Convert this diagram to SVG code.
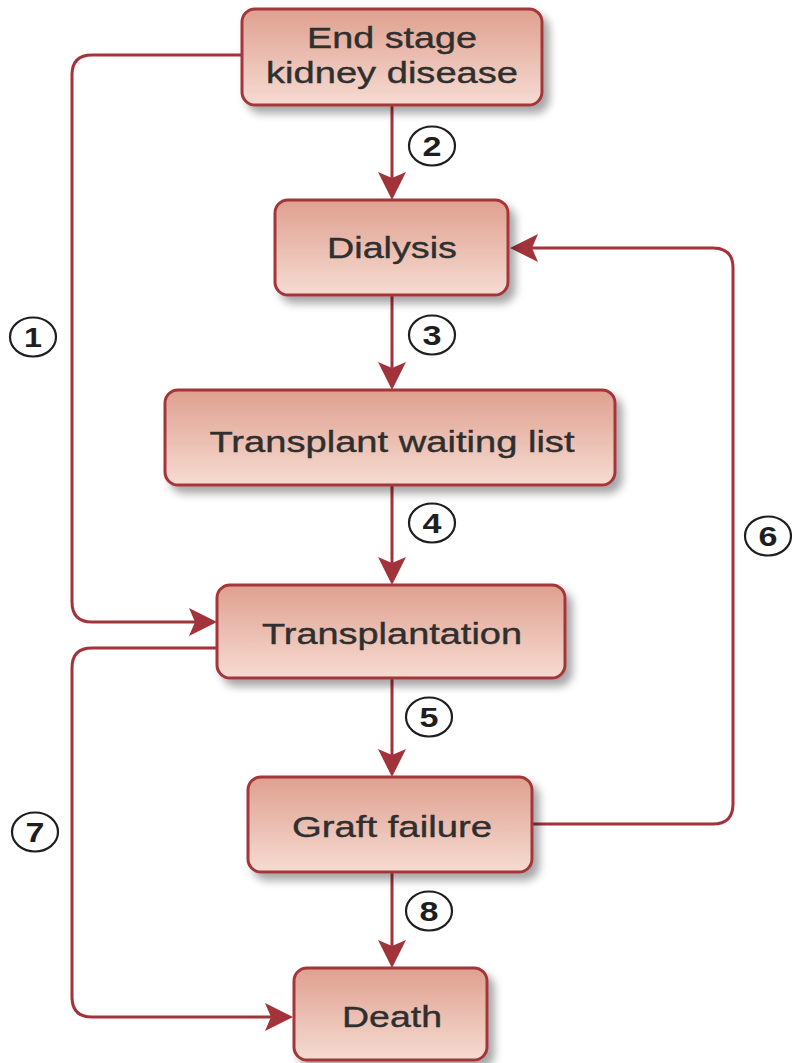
<svg xmlns="http://www.w3.org/2000/svg" width="792" height="1063" viewBox="0 0 792 1063">
<defs>
<linearGradient id="boxGrad" x1="0" y1="0" x2="0" y2="1">
<stop offset="0" stop-color="#dfa08f"/>
<stop offset="1" stop-color="#f6dbd2"/>
</linearGradient>
<filter id="shadow" x="-10%" y="-10%" width="130%" height="140%">
<feDropShadow dx="6" dy="7" stdDeviation="4" flood-color="#000" flood-opacity="0.35"/>
</filter>
<marker id="arrow" markerUnits="userSpaceOnUse" viewBox="0 0 28 30" refX="22" refY="15" markerWidth="28" markerHeight="30" orient="auto">
<path d="M0,1 L28,15 L0,29 L6,15 Z" fill="#a3333a"/>
</marker>
</defs>
<style>
.box{fill:url(#boxGrad);stroke:#a3363a;stroke-width:3;filter:url(#shadow)}
.lbl{font-family:"Liberation Sans",Arial,sans-serif;font-size:30px;fill:#2f2f2f;stroke:#2f2f2f;stroke-width:0.4;text-anchor:middle}
.conn{fill:none;stroke:#a3333a;stroke-width:3}
.num ellipse{fill:#fff;stroke:#1e1e1e;stroke-width:2.2}
.num text{font-family:"Liberation Sans",Arial,sans-serif;font-size:27px;font-weight:bold;fill:#1e1e1e;text-anchor:middle}
</style>
<rect width="792" height="1063" fill="#fff"/>

<g id="connectors">
<path class="conn" d="M392,105 V194" marker-end="url(#arrow)"/>
<path class="conn" d="M392,295 V384" marker-end="url(#arrow)"/>
<path class="conn" d="M392,485 V579" marker-end="url(#arrow)"/>
<path class="conn" d="M392,678 V771" marker-end="url(#arrow)"/>
<path class="conn" d="M392,872 V962" marker-end="url(#arrow)"/>
<path class="conn" d="M242,55 H92 Q72,55 72,75 V602 Q72,622 92,622 H211" marker-end="url(#arrow)"/>
<path class="conn" d="M532,824 H713 Q733,824 733,804 V268 Q733,248 713,248 H516" marker-end="url(#arrow)"/>
<path class="conn" d="M217,648 H92 Q72,648 72,668 V997 Q72,1017 92,1017 H287" marker-end="url(#arrow)"/>
</g>

<g id="node-eskd">
<rect class="box" x="242" y="9" width="300" height="96" rx="13"/>
<text class="lbl" x="392" y="48" textLength="170" lengthAdjust="spacingAndGlyphs">End stage</text>
<text class="lbl" x="392" y="83" textLength="252" lengthAdjust="spacingAndGlyphs">kidney disease</text>
</g>
<g id="node-dialysis">
<rect class="box" x="275" y="200" width="233" height="95" rx="13"/>
<text class="lbl" x="392" y="258" textLength="130" lengthAdjust="spacingAndGlyphs">Dialysis</text>
</g>
<g id="node-waiting">
<rect class="box" x="165" y="390" width="450" height="95" rx="13"/>
<text class="lbl" x="392" y="452" textLength="365" lengthAdjust="spacingAndGlyphs">Transplant waiting list</text>
</g>
<g id="node-transplantation">
<rect class="box" x="217" y="585" width="348" height="93" rx="13"/>
<text class="lbl" x="392" y="644" textLength="260" lengthAdjust="spacingAndGlyphs">Transplantation</text>
</g>
<g id="node-graft">
<rect class="box" x="248" y="777" width="284" height="95" rx="13"/>
<text class="lbl" x="392" y="837" textLength="200" lengthAdjust="spacingAndGlyphs">Graft failure</text>
</g>
<g id="node-death">
<rect class="box" x="294" y="968" width="193" height="92" rx="13"/>
<text class="lbl" x="392" y="1027" textLength="100" lengthAdjust="spacingAndGlyphs">Death</text>
</g>

<g id="labels">
<g class="num"><ellipse cx="33" cy="337" rx="23" ry="19.5"/><text x="33" y="347" textLength="18" lengthAdjust="spacingAndGlyphs">1</text></g>
<g class="num"><ellipse cx="432" cy="146" rx="23" ry="19.5"/><text x="432" y="156" textLength="19" lengthAdjust="spacingAndGlyphs">2</text></g>
<g class="num"><ellipse cx="432" cy="335" rx="23" ry="19.5"/><text x="432" y="345" textLength="19" lengthAdjust="spacingAndGlyphs">3</text></g>
<g class="num"><ellipse cx="432" cy="523" rx="23" ry="19.5"/><text x="432" y="533" textLength="19" lengthAdjust="spacingAndGlyphs">4</text></g>
<g class="num"><ellipse cx="429" cy="717" rx="23" ry="19.5"/><text x="429" y="727" textLength="19" lengthAdjust="spacingAndGlyphs">5</text></g>
<g class="num"><ellipse cx="768" cy="536" rx="23" ry="19.5"/><text x="768" y="546" textLength="19" lengthAdjust="spacingAndGlyphs">6</text></g>
<g class="num"><ellipse cx="35" cy="832" rx="23" ry="19.5"/><text x="35" y="842" textLength="19" lengthAdjust="spacingAndGlyphs">7</text></g>
<g class="num"><ellipse cx="429" cy="911" rx="23" ry="19.5"/><text x="429" y="921" textLength="19" lengthAdjust="spacingAndGlyphs">8</text></g>
</g>
</svg>
